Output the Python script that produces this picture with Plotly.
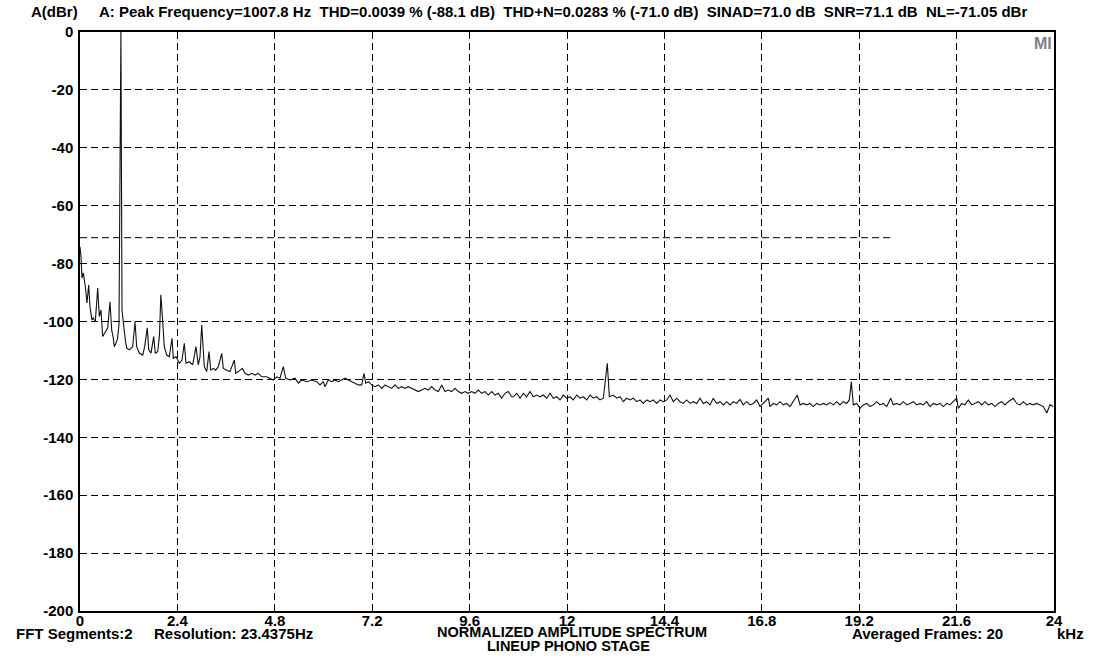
import plotly.graph_objects as go

# ---------------- data ----------------
freq_khz = [
    0.000, 0.025, 0.049, 0.081, 0.131, 0.172, 0.214, 0.246, 0.296, 0.328,
    0.377, 0.436, 0.476, 0.517, 0.559, 0.641, 0.683, 0.739, 0.781, 0.821,
    0.845, 0.887, 0.924, 0.961, 1.008, 1.035, 1.067, 1.116, 1.151, 1.215,
    1.299, 1.355, 1.397, 1.461, 1.545, 1.594, 1.658, 1.693, 1.750, 1.816,
    1.855, 1.915, 1.959, 1.992, 2.030, 2.077, 2.136, 2.200, 2.267, 2.299,
    2.366, 2.447, 2.513, 2.570, 2.612, 2.693, 2.777, 2.858, 2.915, 2.957,
    2.999, 3.031, 3.063, 3.122, 3.179, 3.221, 3.285, 3.344, 3.408, 3.492,
    3.531, 3.615, 3.696, 3.802, 3.837, 3.901, 3.999, 4.066, 4.147, 4.231,
    4.312, 4.394, 4.477, 4.600, 4.682, 4.763, 4.847, 4.928, 5.010, 5.069,
    5.175, 5.298, 5.379, 5.463, 5.586, 5.709, 5.833, 5.914, 5.995, 6.037,
    6.118, 6.202, 6.283, 6.365, 6.449, 6.530, 6.611, 6.695, 6.776, 6.858,
    6.941, 6.998, 7.040, 7.104, 7.188, 7.269, 7.350, 7.434, 7.515, 7.597,
    7.681, 7.762, 7.843, 7.927, 8.008, 8.090, 8.174, 8.255, 8.336, 8.420,
    8.501, 8.583, 8.666, 8.748, 8.829, 8.913, 8.994, 9.075, 9.159, 9.240,
    9.322, 9.406, 9.487, 9.568, 9.652, 9.733, 9.815, 9.898, 9.980, 10.061,
    10.145, 10.226, 10.307, 10.391, 10.472, 10.554, 10.638, 10.677, 10.761, 10.842,
    10.923, 11.007, 11.088, 11.170, 11.254, 11.335, 11.416, 11.500, 11.581, 11.663,
    11.746, 11.828, 11.909, 11.993, 12.074, 12.156, 12.239, 12.321, 12.402, 12.486,
    12.567, 12.649, 12.732, 12.813, 12.895, 12.993, 13.043, 13.141, 13.225, 13.306,
    13.388, 13.471, 13.553, 13.634, 13.718, 13.799, 13.880, 13.964, 14.045, 14.127,
    14.211, 14.292, 14.373, 14.457, 14.538, 14.620, 14.703, 14.785, 14.866, 14.950,
    15.031, 15.112, 15.196, 15.277, 15.359, 15.443, 15.524, 15.605, 15.689, 15.770,
    15.852, 15.935, 16.017, 16.098, 16.182, 16.263, 16.344, 16.428, 16.509, 16.591,
    16.674, 16.756, 16.837, 16.960, 17.002, 17.084, 17.167, 17.249, 17.330, 17.414,
    17.495, 17.576, 17.675, 17.742, 17.823, 17.907, 17.988, 18.069, 18.153, 18.234,
    18.316, 18.399, 18.481, 18.562, 18.646, 18.727, 18.808, 18.892, 18.956, 19.006,
    19.055, 19.139, 19.220, 19.301, 19.385, 19.466, 19.548, 19.632, 19.713, 19.794,
    19.878, 19.976, 20.040, 20.124, 20.206, 20.287, 20.371, 20.452, 20.533, 20.617,
    20.698, 20.780, 20.863, 20.945, 21.026, 21.110, 21.191, 21.272, 21.356, 21.437,
    21.519, 21.603, 21.642, 21.726, 21.807, 21.888, 21.972, 22.054, 22.135, 22.219,
    22.300, 22.381, 22.465, 22.547, 22.628, 22.712, 22.793, 22.874, 22.998, 23.081,
    23.163, 23.244, 23.328, 23.409, 23.491, 23.574, 23.656, 23.737, 23.821, 23.902,
    23.983,
]

level_dbr = [
    -74.2, -77.6, -85.0, -83.2, -88.0, -93.6, -87.4, -94.9, -99.5, -98.8,
    -100.1, -88.4, -98.3, -96.0, -105.2, -102.9, -102.2, -93.2, -102.9, -105.8,
    -108.7, -107.4, -106.0, -101.0, 0.0, -96.0, -100.5, -106.4, -109.2, -109.8,
    -108.7, -100.1, -108.7, -110.9, -111.6, -108.7, -102.2, -109.8, -110.9, -105.2,
    -110.9, -110.4, -104.7, -90.8, -98.3, -108.7, -111.6, -112.2, -105.8, -112.7,
    -112.2, -114.4, -113.3, -107.5, -114.4, -113.9, -115.0, -108.7, -115.0, -112.2,
    -101.2, -107.5, -115.6, -117.3, -110.4, -116.8, -116.2, -116.8, -115.6, -111.0,
    -116.2, -116.8, -117.3, -113.3, -117.9, -117.3, -116.2, -117.9, -118.5, -117.9,
    -118.5, -117.9, -119.1, -119.1, -119.6, -120.2, -119.1, -119.6, -115.6, -119.6,
    -120.2, -119.6, -121.3, -120.2, -120.8, -120.2, -120.8, -121.9, -120.8, -122.5,
    -120.2, -120.8, -120.2, -120.8, -120.2, -119.6, -120.2, -120.8, -121.3, -121.9,
    -121.9, -117.9, -121.3, -120.8, -121.9, -122.5, -121.9, -123.1, -121.9, -122.5,
    -123.1, -121.9, -123.1, -122.5, -123.1, -122.5, -123.1, -123.7, -124.2, -123.7,
    -123.1, -123.7, -122.5, -123.7, -124.2, -121.9, -124.2, -123.7, -124.2, -123.1,
    -124.2, -124.8, -124.2, -124.8, -124.2, -124.8, -123.7, -124.8, -124.2, -125.4,
    -124.2, -125.4, -124.8, -126.5, -124.8, -124.2, -126.0, -126.0, -124.8, -126.5,
    -124.8, -126.0, -124.2, -126.0, -125.4, -126.0, -125.4, -126.5, -124.8, -126.5,
    -126.0, -127.1, -125.4, -126.5, -126.0, -127.1, -125.4, -126.5, -126.0, -127.1,
    -125.4, -126.5, -126.0, -127.1, -126.5, -114.4, -126.0, -125.4, -126.5, -126.0,
    -127.7, -126.5, -127.1, -126.5, -127.7, -127.1, -128.3, -127.1, -127.7, -127.1,
    -128.3, -127.1, -127.7, -127.1, -125.4, -127.7, -126.5, -127.7, -128.3, -127.1,
    -128.3, -127.7, -128.3, -126.5, -128.3, -127.7, -128.8, -126.5, -128.3, -127.7,
    -128.8, -127.7, -128.8, -127.7, -128.3, -126.9, -128.8, -127.7, -128.8, -128.3,
    -127.1, -129.4, -128.3, -126.5, -129.4, -128.3, -128.8, -127.7, -128.8, -128.3,
    -129.4, -127.7, -125.4, -128.8, -128.3, -128.8, -128.3, -129.4, -128.3, -128.8,
    -128.3, -128.8, -128.0, -128.8, -127.7, -128.8, -127.7, -128.3, -127.1, -120.8,
    -128.8, -128.3, -130.0, -128.8, -128.3, -129.4, -128.8, -127.7, -128.8, -128.3,
    -129.4, -126.5, -128.8, -128.3, -128.8, -127.7, -128.8, -128.3, -127.7, -128.8,
    -128.3, -128.8, -127.7, -129.4, -128.3, -128.8, -128.3, -129.4, -128.3, -128.8,
    -127.7, -126.5, -130.0, -128.3, -128.8, -127.1, -128.8, -128.3, -127.7, -128.8,
    -127.7, -128.8, -128.3, -129.4, -128.3, -127.7, -128.8, -127.7, -126.5, -128.3,
    -128.8, -127.7, -128.8, -128.3, -128.8, -128.3, -128.8, -129.4, -131.6, -128.8,
    -129.4,
]

noise_level_dbr = -71.05
noise_line_khz = [0.0, 20.0]

x_ticks = [0, 2.4, 4.8, 7.2, 9.6, 12, 14.4, 16.8, 19.2, 21.6, 24]
x_tick_labels = ["0", "2.4", "4.8", "7.2", "9.6", "12", "14.4", "16.8", "19.2", "21.6", "24"]
y_ticks = list(range(-200, 1, 20))
y_tick_labels = [str(v) for v in y_ticks]

header = ("A: Peak Frequency=1007.8 Hz\u00a0\u00a0THD=0.0039 % (-88.1 dB)\u00a0\u00a0"
          "THD+N=0.0283 % (-71.0 dB)\u00a0\u00a0SINAD=71.0 dB\u00a0\u00a0SNR=71.1 dB\u00a0\u00a0NL=-71.05 dBr")

FONT = "Liberation Sans, Arial, Helvetica, sans-serif"
DASH = "7px,4px"
FS = 15

# ---------------- geometry (screen px; page body margin removed) ----------------
W, H = 1106, 662
L, T, R, B = 80, 32, 1106 - 1054, 662 - 611
pw, ph = W - L - R, H - T - B


def px(xs):
    return (xs - L) / pw


def py(ys):
    return (H - B - ys) / ph


fig = go.Figure()
fig.add_trace(go.Scatter(
    x=noise_line_khz, y=[noise_level_dbr, noise_level_dbr], mode="lines",
    line=dict(color="black", width=1, dash=DASH), hoverinfo="skip", showlegend=False))
fig.add_trace(go.Scatter(
    x=freq_khz, y=level_dbr, mode="lines",
    line=dict(color="#111111", width=1.1), showlegend=False))

fig.update_layout(
    width=W, height=H,
    margin=dict(l=L, r=R, t=T, b=B, pad=0),
    paper_bgcolor="white", plot_bgcolor="white",
    font=dict(family=FONT, size=FS, color="black"),
    xaxis=dict(range=[0, 24], tickvals=x_ticks, ticktext=[f"<b>{t}</b>" for t in x_tick_labels],
               showgrid=True, gridcolor="black", gridwidth=1, griddash=DASH,
               showline=True, linecolor="black", linewidth=1.5, mirror=True,
               zeroline=False, ticks="", tickfont=dict(size=FS), ticklabelstandoff=-5),
    yaxis=dict(range=[-200, 0], tickvals=y_ticks, ticktext=[f"<b>{t}</b>" for t in y_tick_labels],
               showgrid=True, gridcolor="black", gridwidth=1, griddash=DASH,
               showline=True, linecolor="black", linewidth=1.5, mirror=True,
               zeroline=False, ticks="", tickfont=dict(size=FS), ticklabelstandoff=2),
)

ann = [
    dict(text="<b>A(dBr)</b>", x=px(29), y=py(12), xanchor="left", yanchor="middle"),
    dict(text=f"<b>{header}</b>", x=px(97), y=py(12), xanchor="left", yanchor="middle"),
    dict(text="<b>FFT Segments:2</b>", x=px(14), y=py(633), xanchor="left", yanchor="middle"),
    dict(text="<b>Resolution: 23.4375Hz</b>", x=px(152), y=py(633), xanchor="left", yanchor="middle"),
    dict(text="<b>NORMALIZED AMPLITUDE SPECTRUM</b>", x=px(572), y=py(632), xanchor="center", yanchor="middle",
         font=dict(size=14.5, color="black", family=FONT)),
    dict(text="<b>LINEUP PHONO STAGE</b>", x=px(568), y=py(646), xanchor="center", yanchor="middle",
         font=dict(size=14.5, color="black", family=FONT)),
    dict(text="<b>Averaged Frames: 20</b>", x=px(850), y=py(633), xanchor="left", yanchor="middle"),
    dict(text="<b>kHz</b>", x=px(1055), y=py(633), xanchor="left", yanchor="middle"),
    dict(text="<b>MI</b>", x=px(1054), y=py(44), xanchor="right", yanchor="middle",
         font=dict(size=16, color="#808080", family=FONT)),
]
for a in ann:
    a.setdefault("font", dict(size=FS, color="black", family=FONT))
    fig.add_annotation(xref="paper", yref="paper", showarrow=False, **a)

fig.write_html("out.html", config={"displayModeBar": False},
               post_script="document.body.style.margin='0px';")
